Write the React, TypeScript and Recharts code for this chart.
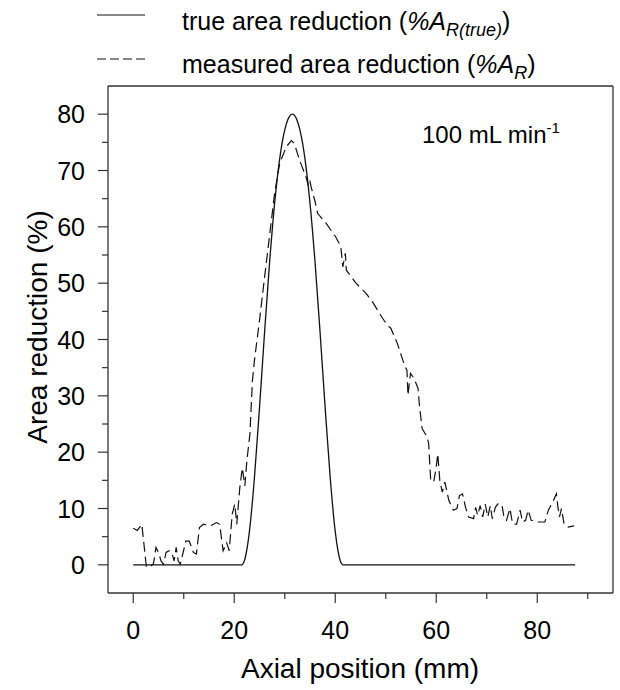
import { LineChart, Line, XAxis, YAxis } from 'recharts';

// true area reduction (solid)
const TRUE_X = [0, 21.5, 22, 23, 24, 25, 26, 27, 28, 29, 30, 31, 31.5, 32, 33, 34, 35, 36, 37, 38, 39, 40, 41, 41.5, 87.5];
const TRUE_Y = [0, 0, 0.7, 5.9, 15.5, 27.9, 41.2, 53.7, 64.2, 72.1, 77.2, 79.7, 80, 79.7, 77.2, 72.1, 64.2, 53.7, 41.2, 27.9, 15.5, 5.9, 0.7, 0, 0];

// measured area reduction (dashed)
const MEAS_X = [
  0, 0.8, 1.7, 2.6, 3.4, 4.0, 4.5, 5.0, 5.5, 6.0, 6.5, 7.1, 7.6, 8.1, 8.5, 8.9, 9.3, 9.8, 10.4, 11.1,
  11.9, 12.5, 13.1, 13.9, 15.2, 16.5, 17.1, 17.8, 18.5, 19.0, 19.6, 20.1, 20.5, 21.1, 21.6, 22.1, 22.5, 23.1, 23.6, 24.0,
  25.0, 26.0, 27.0, 28.0, 29.0, 30.3, 31.3, 31.9, 32.9, 34.2, 34.7, 35.0, 35.3, 36.0, 36.5, 38.2, 40.1, 41.1, 41.5, 42.0,
  42.2, 44.1, 46.1, 47.5, 49.0, 50.3, 51.0, 52.3, 53.6, 54.2, 54.4, 54.9, 55.6, 56.4, 56.7, 57.2, 58.2, 58.5, 58.9, 59.5,
  60.0, 60.3, 60.7, 61.2, 61.7, 62.5, 63.4, 64.1, 64.6, 65.2, 65.8, 66.4, 67.4, 67.8, 68.2, 68.7, 69.2, 69.7, 70.2, 70.7,
  71.1, 71.7, 72.2, 73.0, 73.4, 73.9, 74.6, 75.1, 75.9, 76.6, 77.1, 77.7, 78.2, 78.8, 80.2, 81.5, 82.2, 83.2, 83.8, 84.1,
  84.4, 84.8, 85.3, 86.1, 87.3,
];
const MEAS_Y = [
  6.5, 6.1, 7.2, -0.4, -0.3, 0.2, 3.1, 2.2, 0.7, 0.1, 2.2, 2.5, 2.2, 0.7, 3.1, 0.7, 0.1, 1.9, 4.2, 4.2,
  2.2, 1.9, 6.6, 7.2, 6.9, 7.5, 7.2, 2.5, 3.9, 2.5, 9.0, 10.8, 7.2, 13.7, 17.2, 14.0, 18.5, 23.2, 32.7, 36.3,
  43.4, 51.0, 58.5, 66.0, 71.3, 74.2, 75.3, 74.8, 71.9, 68.9, 67.2, 68.0, 66.8, 64.5, 62.4, 60.6, 58.2, 56.5, 52.9, 55.3,
  52.3, 50.0, 48.2, 46.5, 44.3, 42.5, 42.0, 39.3, 35.7, 34.5, 30.1, 34.0, 33.1, 31.3, 28.0, 24.2, 22.7, 21.5, 15.0, 14.7,
  17.4, 19.7, 15.0, 12.9, 14.7, 11.4, 9.7, 10.0, 12.3, 12.6, 10.2, 8.5, 8.2, 10.2, 8.8, 10.5, 8.5, 10.8, 8.5, 10.5,
  8.2, 10.2, 10.8, 10.7, 8.5, 7.9, 10.0, 7.3, 7.2, 9.7, 7.6, 7.9, 9.7, 7.9, 7.6, 7.6, 9.7, 11.4, 12.6, 10.2,
  8.5, 10.0, 7.3, 6.7, 6.9,
];

const X_TICKS = [0, 10, 20, 30, 40, 50, 60, 70, 80, 90];
const Y_TICKS = [0, 5, 10, 15, 20, 25, 30, 35, 40, 45, 50, 55, 60, 65, 70, 75, 80];

const trueData = TRUE_X.map((x, i) => ({ x, y: TRUE_Y[i] }));
const measData = MEAS_X.map((x, i) => ({ x, y: MEAS_Y[i] }));

const FONT = '"Liberation Sans", Arial, sans-serif';
const AXIS = '#333';

const YTick = (props: any) => {
  const { x, y, payload } = props;
  const major = payload.value % 10 === 0;
  return (
    <g>
      <line x1={x - (major ? 10 : 6)} x2={x} y1={y} y2={y} stroke={AXIS} strokeWidth={1.2} />
      {major && (
        <text x={x - 23} y={y} dy="0.36em" textAnchor="end" fontSize={25} fill="#000" fontFamily={FONT}>
          {payload.value}
        </text>
      )}
    </g>
  );
};

const XTick = (props: any) => {
  const { x, y, payload } = props;
  const major = payload.value % 20 === 0;
  return (
    <g>
      <line x1={x} x2={x} y1={y} y2={y + (major ? 10 : 6)} stroke={AXIS} strokeWidth={1.2} />
      {major && (
        <text x={x} y={y + 46} textAnchor="middle" fontSize={25} fill="#000" fontFamily={FONT}>
          {payload.value}
        </text>
      )}
    </g>
  );
};

export default function App() {
  return (
    <div style={{ position: 'absolute', left: 0, top: 0, width: 620, height: 690, background: '#fff', fontFamily: FONT }}>
      <LineChart width={620} height={690} margin={{ top: 85, right: 6, bottom: 57, left: 48 }}>
        <XAxis
          dataKey="x"
          type="number"
          domain={[-5, 95]}
          ticks={X_TICKS}
          interval={0}
          height={40}
          tickSize={0}
          tickMargin={0}
          tickLine={false}
          tick={<XTick />}
          axisLine={{ stroke: AXIS, strokeWidth: 1.3 }}
        />
        <YAxis
          type="number"
          domain={[-5, 85]}
          ticks={Y_TICKS}
          interval={0}
          width={60}
          tickSize={0}
          tickMargin={0}
          tickLine={false}
          tick={<YTick />}
          axisLine={{ stroke: AXIS, strokeWidth: 1.3 }}
        />
        <XAxis
          xAxisId="top"
          orientation="top"
          type="number"
          domain={[-5, 95]}
          height={1}
          tick={false}
          tickLine={false}
          axisLine={{ stroke: AXIS, strokeWidth: 1.3 }}
        />
        <YAxis
          yAxisId="right"
          orientation="right"
          type="number"
          domain={[-5, 85]}
          width={1}
          tick={false}
          tickLine={false}
          axisLine={{ stroke: AXIS, strokeWidth: 1.3 }}
        />
        <Line
          data={trueData}
          dataKey="y"
          type="monotone"
          stroke="#111"
          strokeWidth={1.3}
          dot={false}
          isAnimationActive={false}
        />
        <Line
          data={measData}
          dataKey="y"
          type="linear"
          stroke="#111"
          strokeWidth={1.2}
          strokeDasharray="10 5"
          dot={false}
          isAnimationActive={false}
        />
      </LineChart>
      <svg
        width={620}
        height={690}
        style={{ position: 'absolute', left: 0, top: 0, pointerEvents: 'none' }}
        fontFamily={FONT}
      >
        {/* legend */}
        <line x1={97} x2={145} y1={15} y2={15} stroke="#111" strokeWidth={1.2} />
        <text x={182} y={30} fontSize={25} fill="#000">
          true area reduction (<tspan fontStyle="italic">%A</tspan>
          <tspan fontStyle="italic" fontSize={18} dy={6}>R(true)</tspan>
          <tspan dy={-6}>)</tspan>
        </text>
        <line x1={97} x2={145} y1={59} y2={59} stroke="#111" strokeWidth={1.2} strokeDasharray="9 4" />
        <text x={182} y={73} fontSize={25} fill="#000">
          measured area reduction (<tspan fontStyle="italic">%A</tspan>
          <tspan fontStyle="italic" fontSize={18} dy={6}>R</tspan>
          <tspan dy={-6}>)</tspan>
        </text>
        {/* flow rate note */}
        <text x={422} y={143} fontSize={24} fill="#000">
          100 mL min<tspan fontSize={15} dy={-10}>-1</tspan>
        </text>
        {/* axis titles */}
        <text x={360} y={678} fontSize={28} textAnchor="middle" fill="#000">
          Axial position (mm)
        </text>
        <text x={47} y={327} fontSize={28} textAnchor="middle" fill="#000" transform="rotate(-90 47 327)">
          Area reduction (%)
        </text>
      </svg>
    </div>
  );
}
